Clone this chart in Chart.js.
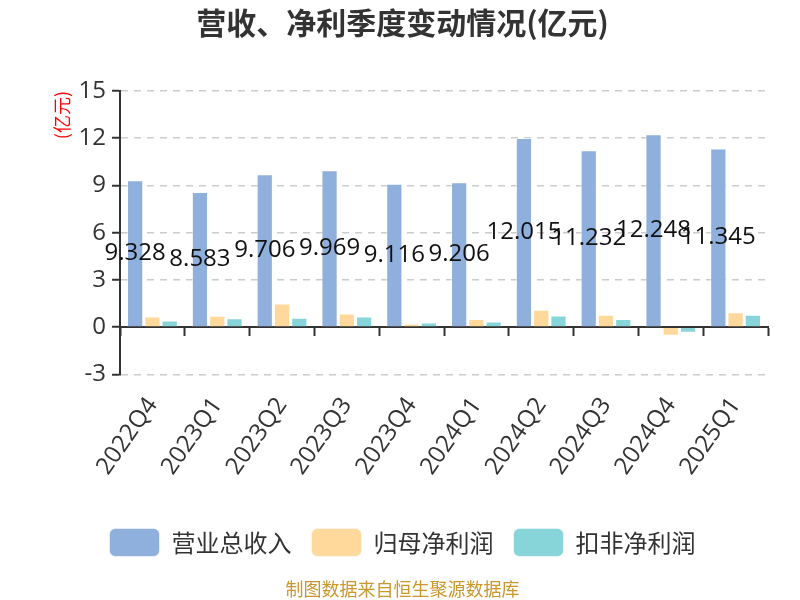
<!DOCTYPE html>
<html>
<head>
<meta charset="utf-8">
<script src="https://cdn.jsdelivr.net/npm/chart.js@4/dist/chart.umd.min.js"></script>
<style>
	html, body { margin: 0; padding: 0; background: #fff; }
	#wrap { position: relative; width: 800px; height: 600px; }
</style>
</head>
<body>
<div id="wrap"><canvas id="c"></canvas></div>
<script>
/* quarterly revenue / profit bars */
const quarters = ['2022Q4', '2023Q1', '2023Q2', '2023Q3', '2023Q4', '2024Q1', '2024Q2', '2024Q3', '2024Q4', '2025Q1'];
const revenue = [9.328, 8.583, 9.706, 9.969, 9.116, 9.206, 12.015, 11.232, 12.248, 11.345];
const netProfit = [0.68, 0.72, 1.51, 0.87, 0.21, 0.51, 1.11, 0.79, -0.55, 0.94];
const deductedProfit = [0.43, 0.57, 0.60, 0.68, 0.30, 0.36, 0.74, 0.51, -0.36, 0.79];
const seriesNames = ['营业总收入', '归母净利润', '扣非净利润'];
const yTicks = [-3, 0, 3, 6, 9, 12, 15];

const FONT = "'Open Sans', 'Noto Sans CJK SC', sans-serif";
const CJK = "'Noto Sans CJK SC', 'Open Sans', sans-serif";

// value labels in the middle of the revenue bars
const barLabels = {
	id: 'barLabels',
	afterDatasetsDraw(chart) {
		const meta = chart.getDatasetMeta(0);
		const ctx = chart.ctx;
		ctx.save();
		ctx.font = '24px ' + FONT;
		ctx.fillStyle = '#111';
		ctx.textAlign = 'center';
		ctx.textBaseline = 'middle';
		meta.data.forEach((bar, i) => {
			ctx.fillText(String(revenue[i]), bar.x, (bar.y + bar.base) / 2);
		});
		ctx.restore();
	},
};

const bar = (label, data, color) => ({
	label,
	data,
	backgroundColor: color,
	borderColor: 'rgba(255,255,255,0.55)',
	borderWidth: 1,
	categoryPercentage: 0.8,
	barPercentage: 0.94,
});

new Chart(document.getElementById('c').getContext('2d'), {
	type: 'bar',
	data: {
		labels: quarters,
		datasets: [
			bar(seriesNames[0], revenue, '#8fafdc'),
			bar(seriesNames[1], netProfit, '#fed99b'),
			bar(seriesNames[2], deductedProfit, '#88d5d9'),
		],
	},
	plugins: [barLabels],
	options: {
		responsive: true,
		maintainAspectRatio: false,
		animation: false,
		layout: { padding: { left: 37, right: 32, top: 0, bottom: 0 } },
		plugins: {
			tooltip: { enabled: false },
			title: {
				display: true,
				text: '营收、净利季度变动情况(亿元)',
				color: '#333',
				font: { family: CJK, size: 30, weight: 'bold' },
				padding: { top: 5, bottom: 50 },
			},
			subtitle: {
				display: true,
				position: 'bottom',
				text: '制图数据来自恒生聚源数据库',
				color: '#c9972b',
				font: { family: CJK, size: 18 },
				padding: { top: 12, bottom: 0 },
			},
			legend: {
				position: 'bottom',
				labels: {
					boxWidth: 50,
					boxHeight: 28,
					useBorderRadius: true,
					borderRadius: 6,
					padding: 20,
					color: '#333',
					font: { family: CJK, size: 24 },
				},
			},
		},
		scales: {
			x: {
				grid: { display: false },
				border: { display: false },
				ticks: {
					color: '#333',
					font: { family: FONT, size: 24 },
					minRotation: 55,
					maxRotation: 55,
					padding: 10,
				},
				afterFit(scale) {
					scale.height += 18;
				},
			},
			x2: {
				type: 'category',
				axis: 'x',
				position: { y: 0 },
				offset: true,
				grid: {
					offset: true,
					drawOnChartArea: false,
					tickLength: 8,
					tickColor: '#333',
					tickWidth: 2,
				},
				border: { color: '#333', width: 2 },
				ticks: { display: false },
			},
			y: {
				min: yTicks[0],
				max: yTicks[yTicks.length - 1],
				afterBuildTicks(scale) {
					scale.ticks = yTicks.map((v) => ({ value: v }));
				},
				grid: {
					color: '#cccccc',
					lineWidth: 1.5,
					tickLength: 8,
					tickColor: '#333',
					tickWidth: 2,
				},
				border: { color: '#333', width: 2, dash: [7, 6] },
				ticks: {
					color: '#333',
					font: { family: FONT, size: 24 },
					padding: 6,
				},
				title: {
					display: true,
					text: '(亿元)',
					align: 'end',
					color: '#ff0000',
					font: { family: CJK, size: 18 },
					padding: { top: 14, bottom: 0 },
				},
			},
		},
	},
});
</script>
</body>
</html>
